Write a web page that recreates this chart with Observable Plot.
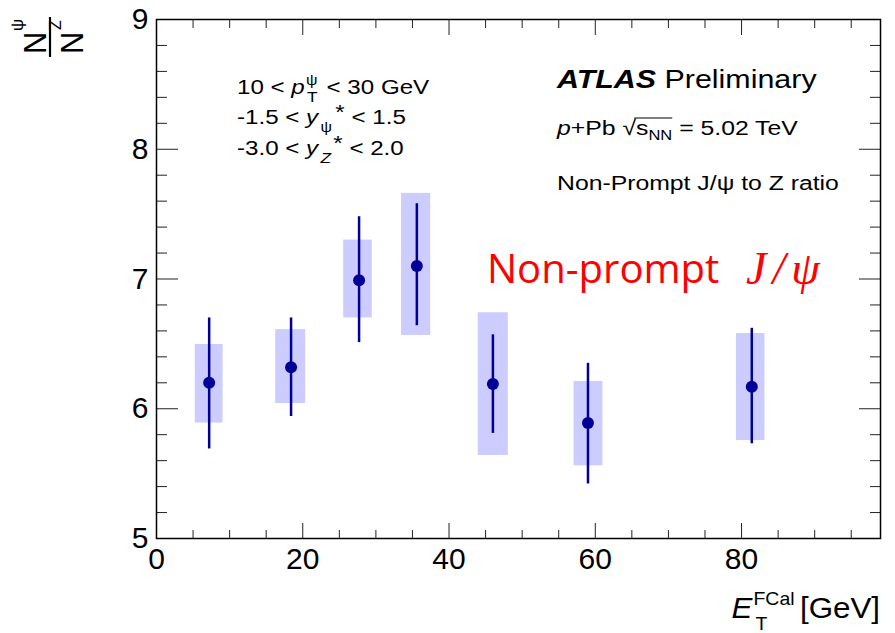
<!DOCTYPE html>
<html>
<head>
<meta charset="utf-8">
<script src="https://cdn.jsdelivr.net/npm/d3@7"></script>
<script src="https://cdn.jsdelivr.net/npm/@observablehq/plot@0.6"></script>
<style>
  html, body { margin: 0; padding: 0; background: #fff; }
  #chart { width: 895px; height: 633px; }
</style>
</head>
<body>
<div id="chart"></div>
<script>
// ---- data ----
const eFCal   = [7.2, 18.4, 27.7, 35.6, 46.0, 59.0, 81.4];   // bin centre (GeV)
const binLo   = [5.3, 16.3, 25.6, 33.5, 44.0, 57.1, 79.3];
const binHi   = [9.1, 20.4, 29.5, 37.5, 48.1, 61.05, 83.2];
const ratio   = [6.20, 6.32, 6.99, 7.10, 6.19, 5.89, 6.17];
const statLo  = [5.69, 5.94, 6.51, 6.64, 5.81, 5.42, 5.73];
const statHi  = [6.70, 6.70, 7.48, 7.58, 6.57, 6.35, 6.62];
const sysLo   = [5.89, 6.04, 6.70, 6.565, 5.64, 5.56, 5.755];
const sysHi   = [6.495, 6.61, 7.30, 7.66, 6.74, 6.21, 6.58];

const xMajor = [0, 20, 40, 60, 80];
const xMinor = [5, 10, 15, 25, 30, 35, 45, 50, 55, 65, 70, 75, 85, 90, 95];
const yMajor = [5, 6, 7, 8, 9];
const yMinor = [5.2, 5.4, 5.6, 5.8, 6.2, 6.4, 6.6, 6.8, 7.2, 7.4, 7.6, 7.8, 8.2, 8.4, 8.6, 8.8];

const rows = eFCal.map((x, i) => ({
  x, x1: binLo[i], x2: binHi[i], y: ratio[i],
  s1: statLo[i], s2: statHi[i], y1: sysLo[i], y2: sysHi[i]
}));

const FONT = "'Liberation Sans', Arial, Helvetica, sans-serif";
const noText = () => "";

const plot = Plot.plot({
  width: 895,
  height: 633,
  marginLeft: 156,
  marginRight: 15,
  marginTop: 19,
  marginBottom: 95,
  style: { fontFamily: FONT, background: "white", color: "black" },
  x: { domain: [0, 99] },
  y: { domain: [5, 9] },
  marks: [
    Plot.rect(rows, { x1: "x1", x2: "x2", y1: "y1", y2: "y2", fill: "#ccccff" }),
    Plot.ruleX(rows, { x: "x", y1: "s1", y2: "s2", stroke: "#000099", strokeWidth: 2.5 }),
    Plot.dot(rows, { x: "x", y: "y", r: 6, fill: "#000099", stroke: "none" }),
    // inward ticks (ROOT style) on all four sides
    Plot.axisX({ anchor: "bottom", ticks: xMajor, tickSize: 15, dy: -15, tickFormat: noText, label: null, stroke: "#222" }),
    Plot.axisX({ anchor: "bottom", ticks: xMinor, tickSize: 8, dy: -8, tickFormat: noText, label: null, stroke: "#222" }),
    Plot.axisX({ anchor: "top", ticks: xMajor, tickSize: 15, dy: 15, tickFormat: noText, label: null, stroke: "#222" }),
    Plot.axisX({ anchor: "top", ticks: xMinor, tickSize: 8, dy: 8, tickFormat: noText, label: null, stroke: "#222" }),
    Plot.axisY({ anchor: "left", ticks: yMajor, tickSize: 22, dx: 22, tickFormat: noText, label: null, stroke: "#222" }),
    Plot.axisY({ anchor: "left", ticks: yMinor, tickSize: 11, dx: 11, tickFormat: noText, label: null, stroke: "#222" }),
    Plot.axisY({ anchor: "right", ticks: yMajor, tickSize: 22, dx: -22, tickFormat: noText, label: null, stroke: "#222" }),
    Plot.axisY({ anchor: "right", ticks: yMinor, tickSize: 11, dx: -11, tickFormat: noText, label: null, stroke: "#222" }),
    // tick labels
    Plot.axisX({ anchor: "bottom", ticks: xMajor, tickSize: 0, tickPadding: 9, fontSize: 30, label: null, tickFormat: d => String(d) }),
    Plot.axisY({ anchor: "left", ticks: yMajor, tickSize: 0, tickPadding: 8, fontSize: 30, label: null, tickFormat: d => String(d) }),
    Plot.frame({ stroke: "black", strokeWidth: 1.5 })
  ]
});

document.getElementById("chart").appendChild(plot);

// ---- annotations (rich text with sub/superscripts) ----
const svg = d3.select(plot);
const ann = svg.append("g").attr("font-family", FONT).attr("fill", "black")
  .attr("text-anchor", "start");

// a text line placed at (x, y) and stretched horizontally by sx
function rich(x, y, sx, size, parts, anchor) {
  const g = ann.append("g").attr("transform", `translate(${x},${y}) scale(${sx},1)`);
  const t = g.append("text").attr("x", 0).attr("y", 0).attr("font-size", size)
    .attr("text-anchor", anchor || "start");
  parts.forEach(p => {
    const s = t.append("tspan").text(p.t);
    if (p.italic) s.attr("font-style", "italic");
    if (p.bold) s.attr("font-weight", "bold");
    if (p.size) s.attr("font-size", p.size);
    if (p.dy !== undefined) s.attr("dy", p.dy);
    if (p.dx !== undefined) s.attr("dx", p.dx);
    if (p.family) s.attr("font-family", p.family);
    if (p.cls) s.attr("class", p.cls);
  });
  return { g, t };
}

// selection cuts (top-left)
rich(237, 94, 1.15, 21, [
  { t: "10 < " }, { t: "p", italic: true },
  { t: "ψ", size: 14, dy: -9, dx: 1 }, { t: "T", size: 15, dy: 17, dx: -9 },
  { t: " < 30 GeV", dy: -8, dx: 2 }
]);
rich(237, 124, 1.15, 21, [
  { t: "-1.5 < " }, { t: "y", italic: true },
  { t: "ψ", size: 14, dy: 8, dx: 2 }, { t: "*", dy: -13, dx: 3 },
  { t: " < 1.5", dy: 5 }
]);
rich(237, 155, 1.15, 21, [
  { t: "-3.0 < " }, { t: "y", italic: true },
  { t: "Z", size: 15, dy: 8, dx: 2, italic: true }, { t: "*", dy: -13, dx: 2 },
  { t: " < 2.0", dy: 5 }
]);

// ATLAS label (top-right)
rich(557, 88, 1.17, 26, [
  { t: "ATLAS", bold: true, italic: true }, { t: " Preliminary" }
]);
const sqrtLine = rich(557, 135, 1.18, 21, [
  { t: "p", italic: true }, { t: "+Pb " }, { t: "√", cls: "rad" },
  { t: "s", cls: "rads" }, { t: "NN", size: 14, dy: 5 }, { t: " = 5.02 TeV", dy: -5 }
]);
{
  const rad = sqrtLine.t.select(".rad").node();
  const rs = sqrtLine.t.select(".rads").node();
  const x1 = rad.getEndPositionOfChar(0).x - 1.5;
  const nn = rs.nextSibling;
  const x2 = nn.getEndPositionOfChar(1).x;
  sqrtLine.g.append("line").attr("x1", x1).attr("x2", x2).attr("y1", -17).attr("y2", -17)
    .attr("stroke", "black").attr("stroke-width", 1);
}
rich(557, 190, 1.18, 21, [{ t: "Non-Prompt J/ψ to Z ratio" }]);

// red overlay label
const red = ann.append("g").attr("fill", "#ff0000").attr("text-anchor", "start");
red.append("text").attr("x", 487).attr("y", 283).attr("font-size", 40)
  .attr("font-family", "'Open Sans', 'Noto Sans', sans-serif").text("Non-prompt");
red.append("text").attr("x", 746).attr("y", 284).attr("font-size", 46)
  .attr("font-style", "italic").attr("letter-spacing", 6)
  .attr("font-family", "'Liberation Serif', 'DejaVu Serif', serif").text("J/ψ");

// x-axis title
rich(880, 618, 1.08, 29, [
  { t: "E", italic: true },
  { t: "FCal", size: 18, dy: -13, dx: 1 },
  { t: "T", size: 18, dx: -36, dy: 25 },
  { t: " [GeV]", dx: 22, dy: -12 }
], "end");

// y-axis title: N^psi / N^Z (rotated)
const yt = ann.append("g").attr("transform", "translate(50,37) rotate(-90)");
yt.append("line").attr("x1", -20).attr("x2", 20).attr("y1", 0).attr("y2", 0)
  .attr("stroke", "black").attr("stroke-width", 2.2);
yt.append("text").attr("x", -17).attr("y", -4).attr("font-size", 31).text("N");
yt.append("text").attr("x", 6).attr("y", -27).attr("font-size", 17).text("ψ");
yt.append("text").attr("x", -17).attr("y", 33).attr("font-size", 31).text("N");
yt.append("text").attr("x", 7).attr("y", 11).attr("font-size", 16).text("Z");
</script>
</body>
</html>
